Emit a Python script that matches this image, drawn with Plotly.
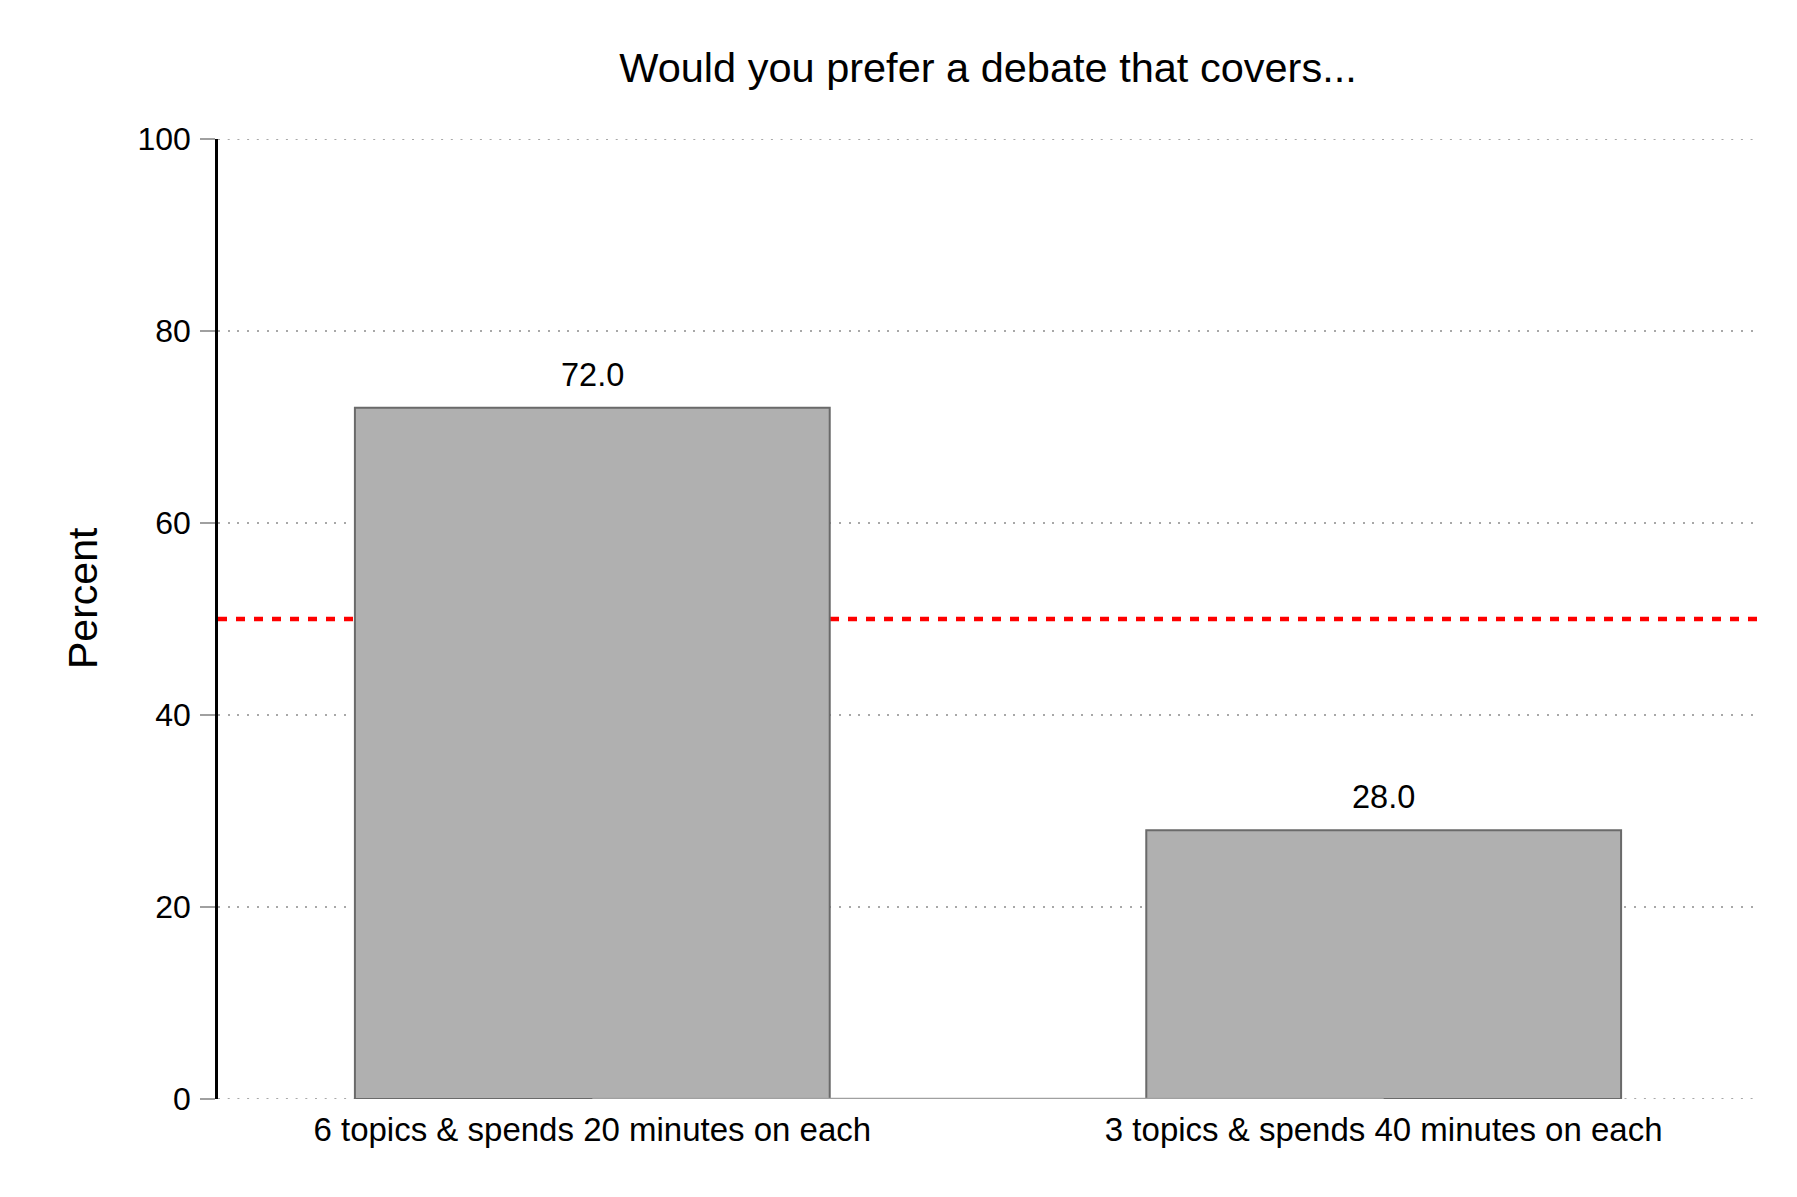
import plotly.graph_objects as go

categories = ["6 topics & spends 20 minutes on each", "3 topics & spends 40 minutes on each"]
values = [72.0, 28.0]
reference_value = 50
y_ticks = [0, 20, 40, 60, 80, 100]
title_text = "Would you prefer a debate that covers..."
y_title = "Percent"

FONT = "Liberation Sans, Arial, Helvetica, sans-serif"
x_pos = list(range(len(categories)))

# page body has an 8px default margin; size the figure so it ends at the window edge
W, H, OFF = 1797, 1197, 8
GRID = dict(color="#a8a8a8", width=2, dash="2px,7.7px")

fig = go.Figure()
fig.add_trace(go.Bar(
    x=x_pos, y=values, width=0.6,
    marker=dict(color="#b0b0b0", line=dict(color="#6a6a6a", width=2)),
    showlegend=False, hoverinfo="y",
))
fig.add_trace(go.Scatter(
    x=x_pos, y=[0] * len(x_pos), mode="lines",
    line=dict(color="#a0a0a0", width=2.5), showlegend=False, hoverinfo="skip",
))

annotations = []
for xp, v in zip(x_pos, values):
    annotations.append(dict(
        x=xp, y=v, xref="x", yref="y", text=f"{v:.1f}", showarrow=False,
        xanchor="center", yanchor="bottom", yshift=13,
        font=dict(family=FONT, size=32.5, color="black"),
    ))
annotations.append(dict(
    x=-0.0876, y=0.522, xref="paper", yref="paper", text=y_title, showarrow=False,
    textangle=-90, xanchor="center", yanchor="middle",
    font=dict(family=FONT, size=41, color="black"),
))

# dotted grid at the axis-range edges (plotly omits them at the boundaries)
for yv in (y_ticks[0], y_ticks[-1]):
    fig.add_shape(type="line", xref="paper", x0=0, x1=1, yref="y", y0=yv, y1=yv,
                  line=GRID, layer="below")

fig.add_shape(type="line", xref="paper", x0=0, x1=1, yref="y", y0=reference_value, y1=reference_value,
              line=dict(color="red", width=4.5, dash="9px,9px"), layer="below")

fig.update_layout(
    width=W - OFF, height=H - OFF,
    margin=dict(l=218 - OFF, r=39, t=139 - OFF, b=98, pad=0),
    paper_bgcolor="white", plot_bgcolor="white",
    font=dict(family=FONT, size=32, color="black"),
    title=dict(text=title_text, x=0.5, xref="paper", xanchor="center",
               y=1 - (82 - OFF) / (H - OFF), yref="container", yanchor="bottom",
               font=dict(family=FONT, size=41.5, color="black")),
    annotations=annotations,
)
fig.update_xaxes(
    range=[-0.473, 1.473], tickvals=x_pos, ticktext=categories,
    showgrid=False, zeroline=False, showline=False, ticks="",
    ticklabelstandoff=8,
    tickfont=dict(family=FONT, size=33, color="black"),
)
fig.update_yaxes(
    range=[0, 100], tickvals=y_ticks, showgrid=True, gridcolor=GRID["color"],
    gridwidth=GRID["width"], griddash=GRID["dash"], zeroline=False,
    showline=True, linecolor="black", linewidth=2.5,
    ticks="outside", ticklen=15, tickwidth=2, tickcolor="#a0a0a0",
    ticklabelstandoff=3,
    tickfont=dict(family=FONT, size=32, color="black"),
)

fig.write_html("out.html")
